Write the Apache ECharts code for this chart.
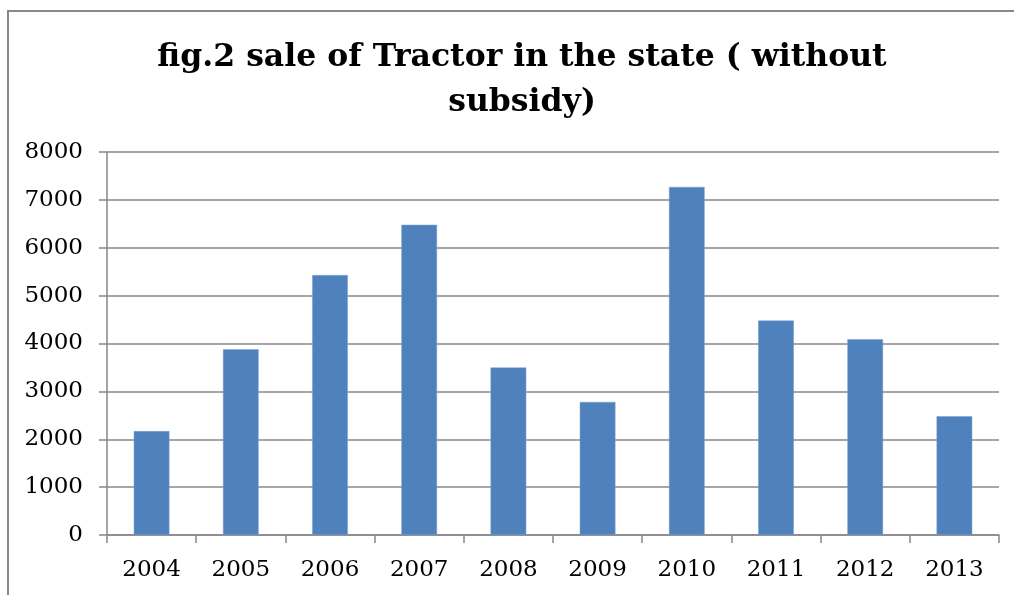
<!DOCTYPE html>
<html><head><meta charset="utf-8">
<script src="https://cdn.jsdelivr.net/npm/echarts@6/dist/echarts.min.js"></script>
<style>html,body{margin:0;padding:0;background:#fff}#c{width:1014px;height:595px}</style>
</head><body><div id="c"></div>
<script>
var years = ['2004','2005','2006','2007','2008','2009','2010','2011','2012','2013'];
var sales = [2170, 3880, 5430, 6480, 3500, 2780, 7270, 4480, 4090, 2480];
var yTicks = {min: 0, max: 8000, interval: 1000};
var titleText = 'fig.2 sale of Tractor in the state ( without\nsubsidy)';

var chart = echarts.init(document.getElementById('c'), null, {renderer: 'canvas'});
chart.setOption({
  animation: false,
  backgroundColor: '#fff',
  title: {
    text: titleText,
    left: 517, top: 30, textAlign: 'center',
    textStyle: {fontFamily: 'DejaVu Serif', fontWeight: 'bold', fontSize: 31.5, lineHeight: 45, color: '#000'}
  },
  graphic: [{
    type: 'polyline', silent: true,
    shape: {points: [[8, 595], [8, 11], [1014, 11]]},
    style: {stroke: '#888', lineWidth: 2, fill: null}
  }],
  grid: {left: 107, right: 15, top: 152, bottom: 60},
  xAxis: {
    type: 'category', data: years,
    axisLine: {lineStyle: {color: '#888', width: 1.5}},
    axisTick: {show: true, length: 8, lineStyle: {color: '#888', width: 1.5}},
    axisLabel: {margin: 24, fontFamily: 'DejaVu Serif', fontSize: 23, color: '#000'}
  },
  yAxis: {
    type: 'value', min: yTicks.min, max: yTicks.max, interval: yTicks.interval,
    axisLine: {show: true, lineStyle: {color: '#888', width: 1.5}},
    axisTick: {show: true, length: 8, lineStyle: {color: '#888', width: 1.5}},
    splitLine: {lineStyle: {color: '#888', width: 1.5}},
    axisLabel: {margin: 24, fontFamily: 'DejaVu Serif', fontSize: 23, color: '#000',
      formatter: function (v) { return String(v); }}
  },
  series: [{
    type: 'bar', data: sales, barWidth: '40%',
    itemStyle: {color: '#4F81BD', borderColor: '#7fa3d1', borderWidth: 0.5}
  }]
});
</script></body></html>
